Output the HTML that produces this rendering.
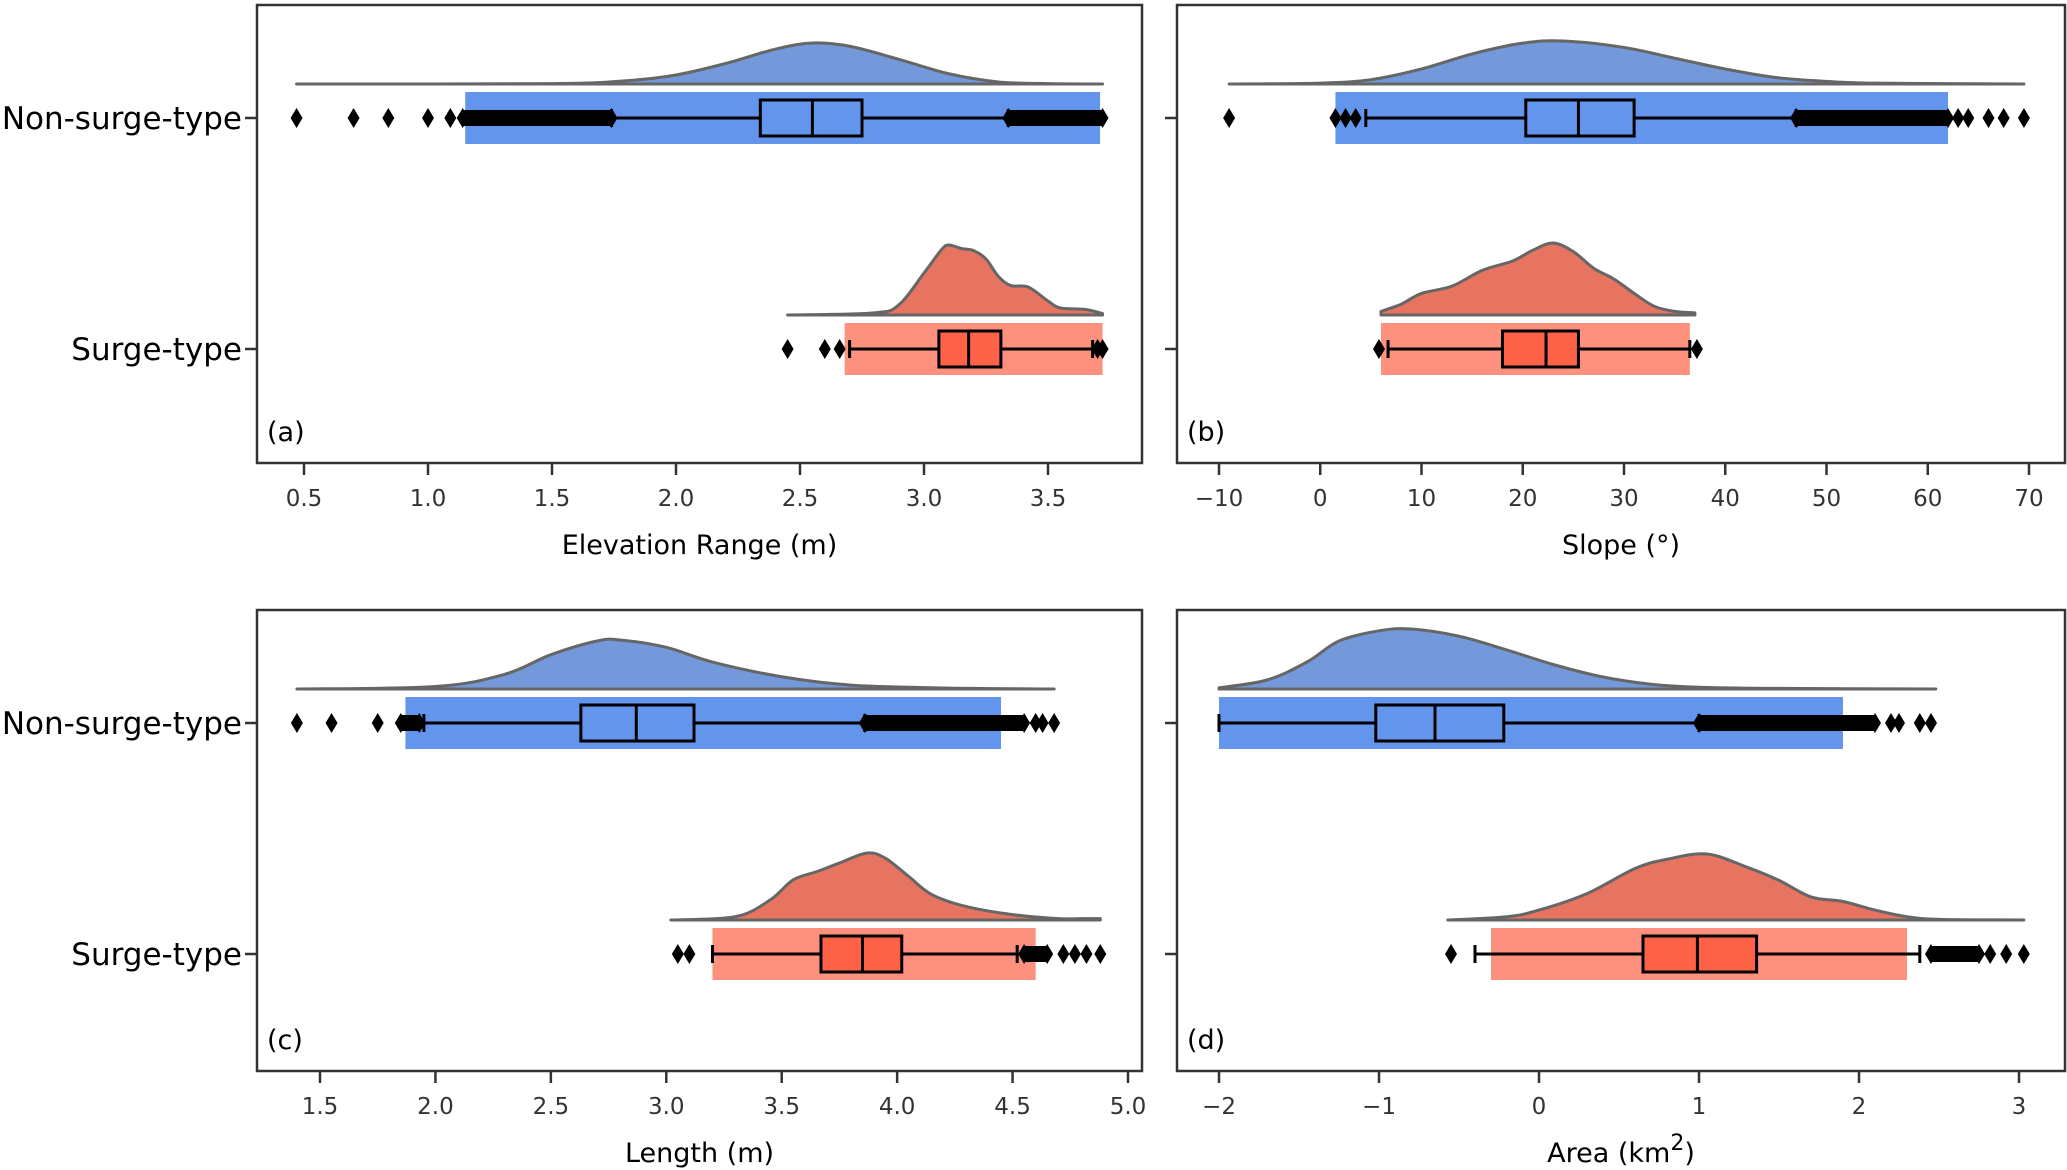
<!DOCTYPE html>
<html><head><meta charset="utf-8">
<style>
html,body{margin:0;padding:0;background:#fff;}
svg{display:block;font-family:"DejaVu Sans","Liberation Sans",sans-serif;}
</style></head>
<body>
<svg id="fig" width="2067" height="1170" viewBox="0 0 2067 1170" xmlns="http://www.w3.org/2000/svg"></svg>
<script>
// ---------- DATA ----------
const groups = ["Non-surge-type", "Surge-type"];
// panel a: Elevation Range
const aTicks = [0.5,1.0,1.5,2.0,2.5,3.0,3.5];
const aTickLabels = ["0.5","1.0","1.5","2.0","2.5","3.0","3.5"];
const aKdeX0 = [0.47,1.5,1.8,2.0,2.2,2.4,2.55,2.7,2.9,3.1,3.3,3.5,3.72];
const aKdeY0 = [0,0.01,0.08,0.22,0.5,0.85,1,0.92,0.6,0.25,0.05,0.01,0];
const aKdeX1 = [2.45,2.8,2.9,3.0,3.07,3.1,3.15,3.2,3.25,3.3,3.35,3.42,3.5,3.55,3.65,3.72];
const aKdeY1 = [0,0.03,0.15,0.6,0.93,1,0.95,0.92,0.8,0.55,0.42,0.4,0.2,0.1,0.08,0.02];
const aBox0 = [1.74,2.34,2.55,2.75,3.34];
const aBox1 = [2.70,3.06,3.18,3.31,3.68];
const aOut0 = [0.47,0.70,0.84,1.00,1.09];
const aOutRange0 = [[1.14,1.74],[3.34,3.72]];
const aOut1 = [2.45,2.60,2.66,3.70,3.72];
const aOutRange1 = [];
const aStrip0 = [1.15,3.71];
const aStrip1 = [2.68,3.72];
// panel b: Slope
const bTicks = [-10,0,10,20,30,40,50,60,70];
const bTickLabels = ["\u221210","0","10","20","30","40","50","60","70"];
const bKdeX0 = [-9,0,5,10,15,20,24,30,35,40,45,50,55,69.5];
const bKdeY0 = [0,0.02,0.1,0.35,0.7,0.95,1,0.85,0.6,0.35,0.15,0.06,0.02,0];
const bKdeX1 = [6,8,10,13,16,19,21,23,25,27,29,31,33,35,37];
const bKdeY1 = [0.05,0.15,0.3,0.4,0.62,0.75,0.9,1,0.88,0.65,0.5,0.3,0.12,0.05,0.03];
const bBox0 = [4.5,20.3,25.5,31,47];
const bBox1 = [6.7,18,22.3,25.5,36.5];
const bOut0 = [-9,1.5,2.5,3.5,63,64,66,67.5,69.5];
const bOutRange0 = [[47,62]];
const bOut1 = [5.8,37.2];
const bOutRange1 = [];
const bStrip0 = [1.5,62];
const bStrip1 = [6,36.5];
// panel c: Length
const cTicks = [1.5,2.0,2.5,3.0,3.5,4.0,4.5,5.0];
const cTickLabels = ["1.5","2.0","2.5","3.0","3.5","4.0","4.5","5.0"];
const cKdeX0 = [1.4,2.0,2.3,2.5,2.7,2.8,3.0,3.2,3.5,3.8,4.2,4.68];
const cKdeY0 = [0,0.05,0.3,0.7,0.98,1,0.85,0.55,0.25,0.08,0.02,0];
const cKdeX1 = [3.02,3.3,3.45,3.55,3.65,3.75,3.87,3.95,4.05,4.15,4.3,4.5,4.7,4.8,4.88];
const cKdeY1 = [0,0.05,0.3,0.6,0.72,0.85,1,0.92,0.65,0.38,0.2,0.08,0.02,0.02,0.02];
const cBox0 = [1.95,2.63,2.87,3.12,3.86];
const cBox1 = [3.2,3.67,3.85,4.02,4.52];
const cOut0 = [1.40,1.55,1.75,4.60,4.63,4.68];
const cOutRange0 = [[1.85,1.93],[3.86,4.55]];
const cOut1 = [3.05,3.10,4.72,4.77,4.82,4.88];
const cOutRange1 = [[4.55,4.65]];
const cStrip0 = [1.87,4.45];
const cStrip1 = [3.2,4.6];
// panel d: Area
const dTicks = [-2,-1,0,1,2,3];
const dTickLabels = ["\u22122","\u22121","0","1","2","3"];
const dKdeX0 = [-2,-1.7,-1.45,-1.25,-1.0,-0.8,-0.5,-0.2,0.1,0.4,0.7,1.0,1.5,2.48];
const dKdeY0 = [0.02,0.15,0.45,0.8,0.97,1,0.88,0.65,0.4,0.2,0.08,0.03,0.01,0];
const dKdeX1 = [-0.57,-0.2,0,0.3,0.6,0.8,1.05,1.3,1.5,1.7,1.9,2.1,2.3,2.5,3.03];
const dKdeY1 = [0,0.05,0.15,0.4,0.78,0.92,1,0.8,0.6,0.35,0.28,0.15,0.05,0.01,0];
const dBox0 = [-2,-1.02,-0.65,-0.22,1.0];
const dBox1 = [-0.4,0.65,0.99,1.36,2.38];
const dOut0 = [2.2,2.25,2.38,2.45];
const dOutRange0 = [[1.0,2.1]];
const dOut1 = [-0.55,2.82,2.92,3.03];
const dOutRange1 = [[2.45,2.75]];
const dStrip0 = [-2,1.9];
const dStrip1 = [-0.3,2.3];

// ---------- LAYOUT ----------
const NS = "http://www.w3.org/2000/svg";
const svg = document.getElementById('fig');
function el(tag, attrs, parent){ const e=document.createElementNS(NS,tag); for(const k in attrs) e.setAttribute(k,attrs[k]); (parent||svg).appendChild(e); return e; }

const panels = [
 {id:'a', L:257, R:1142, T:5, B:463, t0:0.5, p0:304, t1:3.5, p1:1048, ticks:aTicks, tl:aTickLabels, title:'Elevation Range (m)',
  kx:[aKdeX0,aKdeX1], ky:[aKdeY0,aKdeY1], kh:[41,70], box:[aBox0,aBox1], out:[aOut0,aOut1], outR:[aOutRange0,aOutRange1], strip:[aStrip0,aStrip1], labels:true},
 {id:'b', L:1177, R:2065, T:5, B:463, t0:-10, p0:1219, t1:70, p1:2029, ticks:bTicks, tl:bTickLabels, title:'Slope (\u00b0)',
  kx:[bKdeX0,bKdeX1], ky:[bKdeY0,bKdeY1], kh:[43,72], box:[bBox0,bBox1], out:[bOut0,bOut1], outR:[bOutRange0,bOutRange1], strip:[bStrip0,bStrip1], labels:false},
 {id:'c', L:257, R:1142, T:610, B:1071, t0:1.5, p0:320, t1:5.0, p1:1128, ticks:cTicks, tl:cTickLabels, title:'Length (m)',
  kx:[cKdeX0,cKdeX1], ky:[cKdeY0,cKdeY1], kh:[49,67], box:[cBox0,cBox1], out:[cOut0,cOut1], outR:[cOutRange0,cOutRange1], strip:[cStrip0,cStrip1], labels:true},
 {id:'d', L:1177, R:2065, T:610, B:1071, t0:-2, p0:1219, t1:3, p1:2019, ticks:dTicks, tl:dTickLabels, title:'Area (km2)',
  kx:[dKdeX0,dKdeX1], ky:[dKdeY0,dKdeY1], kh:[60,66], box:[dBox0,dBox1], out:[dOut0,dOut1], outR:[dOutRange0,dOutRange1], strip:[dStrip0,dStrip1], labels:false}
];
const kdeFill=['#7399db','#e77460'];
const stripFill=['#6495ed','#fe6347'];
const boxFill=['#6495ed','#fe6347'];

function diamond(g,x,y){
  const d=el('path',{d:`M${x},${y-10} L${x+6},${y} L${x},${y+10} L${x-6},${y} Z`,fill:'#000'},g);
  
  
}
function smoothPath(pts){
  let d='';
  for(let i=0;i<pts.length-1;i++){
    const p0=pts[Math.max(0,i-1)],p1=pts[i],p2=pts[i+1],p3=pts[Math.min(pts.length-1,i+2)];
    const c1=[p1[0]+(p2[0]-p0[0])/6,p1[1]+(p2[1]-p0[1])/6];
    const c2=[p2[0]-(p3[0]-p1[0])/6,p2[1]-(p3[1]-p1[1])/6];
    d+=` C${c1[0]},${c1[1]} ${c2[0]},${c2[1]} ${p2[0]},${p2[1]}`;
  }
  return d;
}

panels.forEach(p=>{
  const xs=v=>p.p0+(v-p.t0)*(p.p1-p.p0)/(p.t1-p.t0);
  const rowY=[p.T+113, p.T+344];
  const g=el('g',{});
  
  
  for(let i=0;i<2;i++){
    const cy=rowY[i];
    const base=cy-34;
    const X=p.kx[i], Y=p.ky[i];
    const pts=X.map((x,k)=>[xs(x),base-Y[k]*p.kh[i]]);
    let dstr=`M${pts[0][0]},${base} L${pts[0][0]},${pts[0][1]}`+smoothPath(pts)+` L${pts[pts.length-1][0]},${base} Z`;
    const kd=el('path',{d:dstr,fill:kdeFill[i],stroke:'#666','stroke-width':3,'stroke-linejoin':'round'},g);
    
    
    const s=p.strip[i];
    const st=el('rect',{x:xs(s[0]),y:cy-26,width:xs(s[1])-xs(s[0]),height:52,fill:stripFill[i],opacity:i?0.7:1},g);
    
    
    const b=p.box[i];
    const wl=el('line',{x1:xs(b[0]),x2:xs(b[1]),y1:cy,y2:cy,stroke:'#000','stroke-width':3},g);
    
    
    const wh=el('line',{x1:xs(b[3]),x2:xs(b[4]),y1:cy,y2:cy,stroke:'#000','stroke-width':3},g);
    
    
    [b[0],b[4]].forEach(v=>{
      const c=el('line',{x1:xs(v),x2:xs(v),y1:cy-9,y2:cy+9,stroke:'#000','stroke-width':3},g);
      
      
    });
    const bx=el('rect',{x:xs(b[1]),y:cy-18,width:xs(b[3])-xs(b[1]),height:36,fill:boxFill[i],stroke:'#000','stroke-width':3},g);
    
    
    const md=el('line',{x1:xs(b[2]),x2:xs(b[2]),y1:cy-18,y2:cy+18,stroke:'#000','stroke-width':3},g);
    
    
    p.outR[i].forEach(r=>{
      const rr=el('rect',{x:xs(r[0]),y:cy-8,width:xs(r[1])-xs(r[0]),height:16,fill:'#000'},g);
      
      
      diamond(g,xs(r[0]),cy); diamond(g,xs(r[1]),cy);
    });
    p.out[i].forEach(v=>diamond(g,xs(v),cy));
    const yt=el('line',{x1:p.L-12,x2:p.L,y1:cy,y2:cy,stroke:'#333','stroke-width':2.5},g);
    
    
    if(p.labels){
      const t=el('text',{x:p.L-15,y:cy+11,'text-anchor':'end','font-size':31,fill:'#000'},g);
      t.textContent=groups[i];
      
      
    }
  }
  const fr=el('rect',{x:p.L,y:p.T,width:p.R-p.L,height:p.B-p.T,fill:'none',stroke:'#333','stroke-width':2.5},g);
  
  
  p.ticks.forEach((v,k)=>{
    const x=xs(v);
    const tk=el('line',{x1:x,x2:x,y1:p.B,y2:p.B+12,stroke:'#333','stroke-width':2.5},g);
    
    
    const tt=el('text',{x:x,y:p.B+43,'text-anchor':'middle','font-size':23,fill:'#333'},g);
    tt.textContent=p.tl[k];
    
    
  });
  const xt=el('text',{x:(p.L+p.R)/2,y:p.B+91,'text-anchor':'middle','font-size':27,fill:'#000'},g);
  if(p.id==='d'){
    xt.appendChild(document.createTextNode('Area (km'));
    const sup=el('tspan',{dy:-12,'font-size':22},xt); sup.textContent='2';
    const rest=el('tspan',{dy:12},xt); rest.textContent=')';
  } else xt.textContent=p.title;
  
  
  const pl=el('text',{x:p.L+10,y:p.B-22,'font-size':27,fill:'#000'},g);
  pl.textContent='('+p.id+')';
  
  
});
</script>
</body></html>
